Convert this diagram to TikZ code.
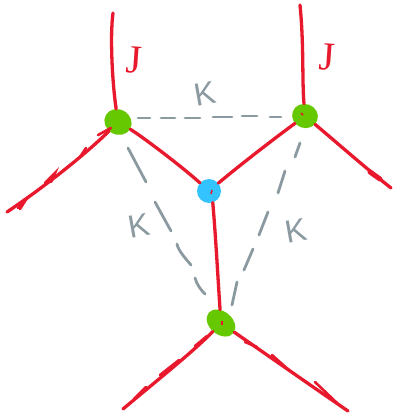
\documentclass[tikz,border=0pt]{standalone}
\usepackage{fontspec}
\setmainfont{Liberation Sans}
\newfontfamily\jfont{Liberation Serif}
\usetikzlibrary{shapes.geometric}
\definecolor{inkred}{HTML}{E8192C}
\definecolor{inkgreen}{HTML}{66C800}
\definecolor{inkblue}{HTML}{33C4FF}
\definecolor{inkgray}{HTML}{8A9AA0}
\tikzset{
  redline/.style={draw=inkred,line width=3.3pt,line cap=round,line join=round},
  tick/.style={draw=inkred,line width=2.6pt,line cap=round},
  grayline/.style={draw=inkgray,line width=2.8pt,line cap=round},
  greenblob/.style={ellipse,fill=inkgreen,inner sep=0pt},
  blueblob/.style={circle,fill=inkblue,inner sep=0pt,minimum size=24pt},
  klabel/.style={text=inkgray,font=\fontsize{32}{32}\selectfont,inner sep=0pt,rotate=10},
  jlabel/.style={text=inkred,font=\jfont\fontsize{40}{40}\selectfont,inner sep=0pt,rotate=-4},
}
\begin{document}
\begin{tikzpicture}[x=1pt,y=-1pt]
\useasboundingbox (0,0) rectangle (392,416);
% blobs
\node[greenblob,minimum width=28pt,minimum height=25pt,rotate=-30] (gl) at (118,122) {};
\node[greenblob,minimum width=26pt,minimum height=24pt,rotate=-20] (gr) at (305,116) {};
\node[greenblob,minimum width=32pt,minimum height=23pt,rotate=-40] (gb) at (221,323) {};
\node[blueblob] (bl) at (209,191) {};
% free ends
\coordinate (tl) at (113,13);
\coordinate (ll) at (7,212);
\coordinate (tr) at (300,5);
\coordinate (rr) at (391,188);
\coordinate (bbl) at (123,409);
\coordinate (bbr) at (348,411);
% red connectors
\draw[redline] (tl) .. controls (110,35) and (112,80) .. (gl);
\draw[redline] (gl) .. controls (90,150) and (50,183) .. (ll);
\draw[redline] (gl) .. controls (140,135) and (180,165) .. (bl);
\draw[redline] (gr) .. controls (275,138) and (240,165) .. (bl);
\draw[redline] (tr) .. controls (304,45) and (302,80) .. (gr);
\draw[redline] (gr) .. controls (335,141) and (362,165) .. (rr);
\draw[redline] (bl.-72) .. controls (216,240) and (218,280) .. (gb);
\draw[redline] (gb) .. controls (195,350) and (160,378) .. (bbl);
\draw[redline] (gb) .. controls (260,350) and (310,385) .. (bbr);
% small pen strokes on the lines
\draw[tick] (98,135) -- (111,128);
\draw[tick] (80,157) -- (86,148);
\draw[tick] (45,183) -- (55,173) -- (51,182);
\draw[tick] (18,208) -- (27,198) -- (20,209);
\draw[tick] (195,346) -- (207,336);
\draw[tick] (160,375) -- (179,360);
\draw[tick] (134,399) -- (146,387);
\draw[tick] (245,342) -- (257,347);
\draw[tick] (272,355) -- (290,371);
\draw[tick] (315,382) -- (337,403);
\draw[draw=inkred,line width=5pt,line cap=round] (370,172) -- (380,179);
\draw[draw=inkred,line width=1.5pt] (301,113) -- (303,115);
\draw[draw=inkred,line width=1.5pt] (222,321) -- (222,325);
\draw[draw=inkred,line width=1.5pt] (212,190) -- (211,194);
% gray dashes
\draw[grayline] (138,118) -- (150,118);
\draw[grayline] (161,118) -- (175,118);
\draw[grayline] (185,118) -- (200,118);
\draw[grayline] (213,117) -- (232,117);
\draw[grayline] (242,116) -- (257,116);
\draw[grayline] (270,117) -- (281,117);
\draw[grayline] (128,148) -- (146,182);
\draw[grayline] (155,202) -- (171,231);
\draw[grayline] (177,244) .. controls (178,250) and (185,258) .. (191,265);
\draw[grayline] (195,278) .. controls (197,285) and (201,290) .. (205,294);
\draw[grayline] (300,143) -- (295,157);
\draw[grayline] (285,171) -- (278,193);
\draw[grayline] (268,212) -- (259,235);
\draw[grayline] (253,249) -- (244,270);
\draw[grayline] (237,282) -- (232,305);
% labels
\node[jlabel] (jl) at (134,60) {J};
\node[jlabel] (jr) at (327,57) {J};
\node[klabel] (kt) at (205,94) {K};
\node[klabel] (kl) at (139,226) {K};
\node[klabel] (kr) at (296,231) {K};
\end{tikzpicture}
\end{document}
